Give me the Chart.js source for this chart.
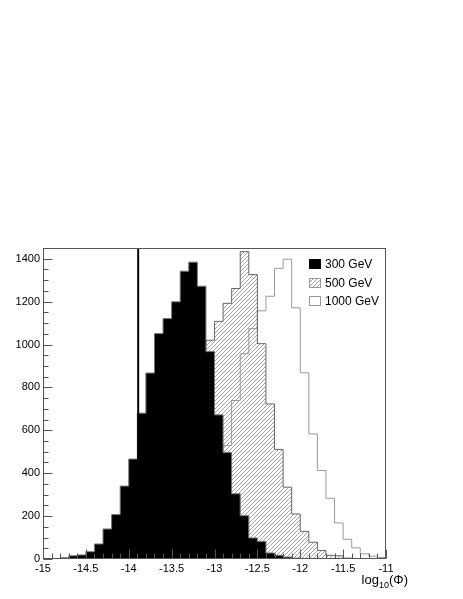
<!DOCTYPE html>
<html>
<head>
<meta charset="utf-8">
<script src="https://cdn.jsdelivr.net/npm/chart.js@4.4.0/dist/chart.umd.min.js"></script>
<style>
  html, body { margin: 0; padding: 0; background: #fff; }
</style>
</head>
<body>
<canvas id="c" width="463" height="599"></canvas>
<script>
// histogram bins: 40 bins of 0.1 from -15 to -11
const binLow = -15;
const binWidth = 0.1;

const gev300 = [1, 2, 6, 15, 19, 34, 70, 140, 207, 340,
                466, 680, 867, 1051, 1121, 1199, 1342, 1384, 1272, 967,
                672, 497, 304, 202, 98, 82, 28, 17, 9, 4,
                2, 0, 0, 0, 0, 0, 0, 0, 0, 0];
const gev500 = [0, 0, 0, 0, 0, 1, 1, 3, 5, 13,
                19, 36, 68, 138, 212, 335, 472, 676, 858, 1020,
                1108, 1192, 1261, 1433, 1326, 1004, 723, 511, 335, 210,
                129, 78, 40, 17, 15, 4, 2, 1, 0, 0];
const gev1000 = [0, 0, 0, 0, 0, 0, 0, 0, 0, 0,
                 0, 0, 1, 3, 6, 14, 20, 38, 72, 140,
                 330, 529, 739, 957, 1074, 1157, 1225, 1355, 1398, 1171,
                 868, 583, 413, 283, 168, 92, 52, 24, 13, 7];

const seriesLabels = ['300 GeV', '500 GeV', '1000 GeV'];
const xTicks = [-15, -14.5, -14, -13.5, -13, -12.5, -12, -11.5, -11];
const yTicks = [0, 200, 400, 600, 800, 1000, 1200, 1400];
const yMax = 1450;
const cutValue = -13.89;

const FONT = "'Liberation Sans', Arial, Helvetica, sans-serif";

// turn bin contents into a closed step outline
function steps(vals) {
  const pts = [{ x: binLow, y: 0 }];
  vals.forEach((v, i) => pts.push({ x: binLow + i * binWidth, y: v }));
  const hi = binLow + vals.length * binWidth;
  pts.push({ x: hi, y: vals[vals.length - 1] });
  pts.push({ x: hi, y: 0 });
  return pts;
}

const canvas = document.getElementById('c');
const ctx0 = canvas.getContext('2d');

function makeHatch() {
  const t = document.createElement('canvas');
  t.width = 4; t.height = 4;
  const g = t.getContext('2d');
  g.strokeStyle = '#9a9a9a';
  g.lineWidth = 0.9;
  g.beginPath();
  g.moveTo(0, 4); g.lineTo(4, 0);
  g.moveTo(-1, 1); g.lineTo(1, -1);
  g.moveTo(3, 5); g.lineTo(5, 3);
  g.stroke();
  return ctx0.createPattern(t, 'repeat');
}
const hatch = makeHatch();

const histStyle = { stepped: true, pointRadius: 0, borderWidth: 1, fill: 'origin', tension: 0 };

const rootDecor = {
  id: 'rootDecor',
  afterDraw(chart) {
    const ctx = chart.ctx;
    const a = chart.chartArea;
    const xs = chart.scales.x, ys = chart.scales.y;
    const L = Math.round(a.left) + 0.5, R = Math.round(a.right) - 0.5;
    const T = Math.round(a.top) + 0.5, B = Math.round(a.bottom) - 0.5;
    ctx.save();

    // cut line
    const cx = xs.getPixelForValue(cutValue);
    ctx.strokeStyle = '#000';
    ctx.lineWidth = 2;
    ctx.beginPath(); ctx.moveTo(cx, a.top); ctx.lineTo(cx, a.bottom); ctx.stroke();

    // frame
    ctx.strokeStyle = '#555';
    ctx.lineWidth = 1;
    ctx.strokeRect(L, T, R - L, B - T);

    // x ticks (inside, pointing up)
    ctx.beginPath();
    for (let i = 0; i <= 40; i++) {
      const px = Math.round(xs.getPixelForValue(binLow + i * binWidth)) + 0.5;
      const len = i % 5 === 0 ? 9 : 5;
      ctx.moveTo(px, B); ctx.lineTo(px, B - len);
    }
    // y ticks (inside, pointing right)
    for (let v = 0; v <= yMax; v += 50) {
      const py = Math.round(ys.getPixelForValue(v)) + 0.5;
      const len = v % 200 === 0 ? 9 : 5;
      ctx.moveTo(L, py); ctx.lineTo(L + len, py);
    }
    ctx.stroke();

    // legend
    const lx = 309, bw = 12, bh = 10;
    const rows = [259, 278, 296];
    ctx.font = '12px ' + FONT;
    ctx.textBaseline = 'middle';
    ctx.textAlign = 'left';
    rows.forEach((ry, i) => {
      if (i === 0) { ctx.fillStyle = '#000'; ctx.fillRect(lx, ry, bw, bh); }
      if (i === 1) { ctx.fillStyle = hatch; ctx.fillRect(lx, ry, bw, bh); }
      if (i === 2) { ctx.fillStyle = '#fff'; ctx.fillRect(lx, ry, bw, bh); }
      ctx.strokeStyle = i === 0 ? '#000' : '#999';
      ctx.strokeRect(lx + 0.5, ry + 0.5, bw - 1, bh - 1);
      ctx.fillStyle = '#000';
      ctx.fillText(seriesLabels[i], lx + 16, ry + bh / 2 + 0.5);
    });

    // axis title log10(Phi), right aligned
    ctx.textBaseline = 'alphabetic';
    const big = '13px ' + FONT, small = '9px ' + FONT;
    ctx.font = big; const w1 = ctx.measureText('log').width, w3 = ctx.measureText('(\u03A6)').width;
    ctx.font = small; const w2 = ctx.measureText('10').width;
    let tx = 408 - (w1 + w2 + w3);
    const base = 584;
    ctx.font = big; ctx.fillText('log', tx, base); tx += w1;
    ctx.font = small; ctx.fillText('10', tx, base + 4); tx += w2;
    ctx.font = big; ctx.fillText('(\u03A6)', tx, base);

    ctx.restore();
  }
};

new Chart(canvas, {
  type: 'line',
  data: {
    datasets: [
      { label: seriesLabels[0], data: steps(gev300), borderColor: '#777', backgroundColor: '#000', ...histStyle },
      { label: seriesLabels[1], data: steps(gev500), borderColor: '#666', backgroundColor: hatch, ...histStyle },
      { label: seriesLabels[2], data: steps(gev1000), borderColor: '#999', backgroundColor: 'rgba(0,0,0,0)', ...histStyle }
    ]
  },
  options: {
    responsive: false,
    animation: false,
    devicePixelRatio: 1,
    layout: { padding: { top: 248, right: 77, left: 0, bottom: 0 } },
    plugins: { legend: { display: false }, tooltip: { enabled: false } },
    scales: {
      x: {
        type: 'linear', min: -15, max: -11,
        afterBuildTicks: s => { s.ticks = xTicks.map(v => ({ value: v })); },
        afterFit: s => { s.height = 40; },
        grid: { display: false, drawTicks: false },
        border: { display: false },
        ticks: { autoSkip: false, maxRotation: 0, padding: 3, color: '#000', font: { family: FONT, size: 11 },
                 callback: v => String(v) }
      },
      y: {
        type: 'linear', min: 0, max: yMax,
        afterBuildTicks: s => { s.ticks = yTicks.map(v => ({ value: v })); },
        afterFit: s => { s.width = 43; },
        grid: { display: false, drawTicks: false },
        border: { display: false },
        ticks: { padding: 3, color: '#000', font: { family: FONT, size: 11 },
                 callback: v => String(v) }
      }
    }
  },
  plugins: [rootDecor]
});
</script>
</body>
</html>
